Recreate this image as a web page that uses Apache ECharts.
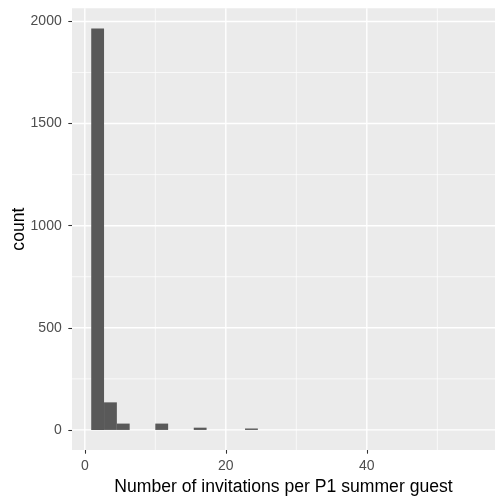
<!DOCTYPE html>
<html>
<head>
<meta charset="utf-8">
<script src="https://cdn.jsdelivr.net/npm/echarts@6/dist/echarts.min.js"></script>
<style>
  html, body { margin: 0; background: #fff; }
  #chart { width: 504px; height: 504px; }
</style>
</head>
<body>
<div id="chart"></div>
<script>
// histogram: 30 bins, as ggplot draws them
const binWidth = 1.818;
const binOrigin = 0.909;
const counts = [1966, 135, 31, 0, 0, 31, 0, 0, 11, 0,
                0, 0, 7, 0, 0, 0, 0, 0, 0, 0,
                0, 0, 0, 0, 0, 0, 0, 0, 0, 0];
const xBreaks = [0, 20, 40];
const xMinor = [10, 30, 50];
const yBreaks = [0, 500, 1000, 1500, 2000];
const yMinor = [250, 750, 1250, 1750];

const FONT = "'Liberation Sans', Arial, sans-serif";

const bars = counts.map((c, i) => [binOrigin + i * binWidth, binOrigin + (i + 1) * binWidth, c]);

// grid lines: [direction, value, width]
const gridLines = []
  .concat(xMinor.map(v => ['x', v, 0.7]), yMinor.map(v => ['y', v, 0.7]))
  .concat(xBreaks.map(v => ['x', v, 1.4]), yBreaks.map(v => ['y', v, 1.4]));

const chart = echarts.init(document.getElementById('chart'), null, { renderer: 'canvas' });

chart.setOption({
  animation: false,
  backgroundColor: '#fff',
  grid: { left: 72, right: 9, top: 8.3, bottom: 54, show: true, backgroundColor: '#EBEBEB', borderWidth: 0,
          outerBoundsMode: 'none', containLabel: false },
  xAxis: {
    type: 'value',
    min: -1.818, max: 58.18,
    name: 'Number of invitations per P1 summer guest',
    nameLocation: 'middle',
    nameGap: 28,
    nameMoveOverlap: false,
    nameTextStyle: { color: '#000', fontSize: 17.6, fontFamily: FONT },
    axisLine: { show: false, onZero: false },
    axisTick: { show: true, customValues: xBreaks, length: 3.7, lineStyle: { color: '#333', width: 1.07 } },
    axisLabel: { customValues: xBreaks, color: '#4D4D4D', fontSize: 14, fontFamily: FONT, margin: 9,
                 formatter: v => String(v) },
    splitLine: { show: false }
  },
  yAxis: {
    type: 'value',
    min: -98.3, max: 2064.3,
    name: 'count',
    nameLocation: 'middle',
    nameGap: 44,
    nameMoveOverlap: false,
    nameTextStyle: { color: '#000', fontSize: 17.6, fontFamily: FONT },
    axisLine: { show: false, onZero: false },
    axisTick: { show: true, customValues: yBreaks, length: 3.7, lineStyle: { color: '#333', width: 1.07 } },
    axisLabel: { customValues: yBreaks, color: '#4D4D4D', fontSize: 14, fontFamily: FONT, margin: 10.3,
                 formatter: v => String(v) },
    splitLine: { show: false }
  },
  series: [
    {
      type: 'custom',
      z: 1,
      silent: true,
      data: gridLines,
      renderItem(params, api) {
        const cs = params.coordSys;
        const d = gridLines[params.dataIndex];
        if (d[0] === 'x') {
          const p = api.coord([d[1], 0]);
          return { type: 'line', shape: { x1: p[0], y1: cs.y, x2: p[0], y2: cs.y + cs.height },
                   style: { stroke: '#fff', lineWidth: d[2] } };
        }
        const p = api.coord([0, d[1]]);
        return { type: 'line', shape: { x1: cs.x, y1: p[1], x2: cs.x + cs.width, y2: p[1] },
                 style: { stroke: '#fff', lineWidth: d[2] } };
      }
    },
    {
      type: 'custom',
      z: 2,
      data: bars,
      encode: { x: [0, 1], y: 2 },
      renderItem(params, api) {
        if (!api.value(2)) return null; // empty bin
        const p0 = api.coord([api.value(0), api.value(2)]);
        const p1 = api.coord([api.value(1), 0]);
        return { type: 'rect',
                 shape: { x: p0[0], y: p0[1], width: p1[0] - p0[0], height: p1[1] - p0[1] },
                 style: { fill: '#595959' } };
      }
    }
  ]
});
</script>
</body>
</html>
